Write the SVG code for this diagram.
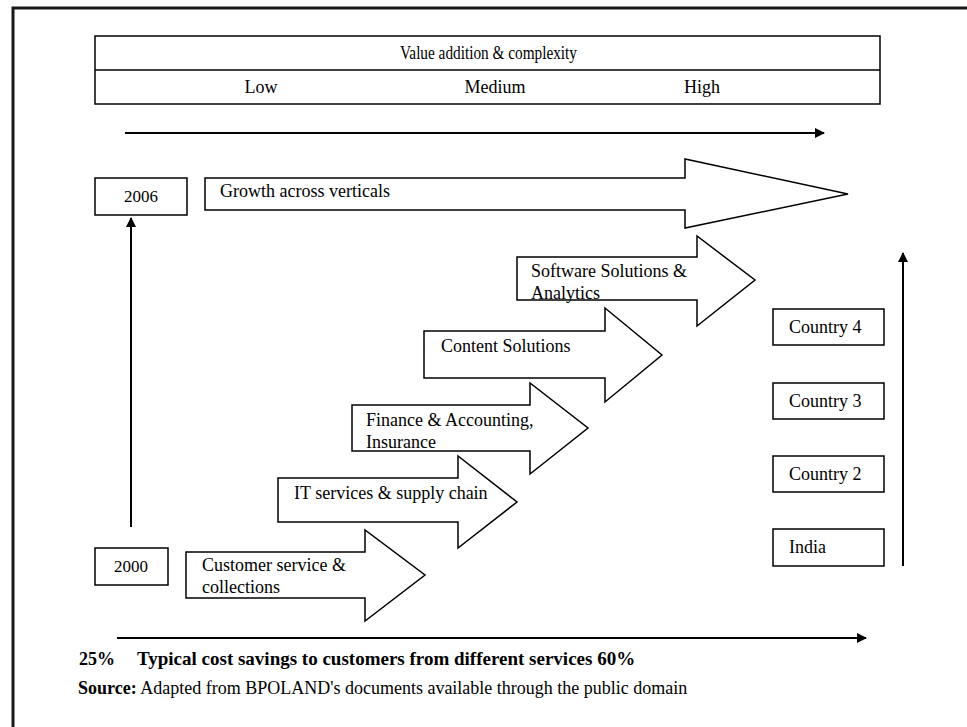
<svg xmlns="http://www.w3.org/2000/svg" width="967" height="727" viewBox="0 0 967 727">
<style>
text{font-family:"Liberation Serif","Times New Roman",serif;font-size:18px;fill:#000}
.yr{font-size:17px}
.b{fill:#fff;stroke:#000;stroke-width:1.5}
.l{stroke:#000;stroke-width:2;fill:none}
.bold{font-weight:bold}
</style>
<defs>
<marker id="ah" viewBox="0 0 10 10" refX="9" refY="5" markerWidth="5" markerHeight="5" orient="auto" markerUnits="strokeWidth">
<path d="M0,0 L10,5 L0,10 z" fill="#000"/>
</marker>
</defs>
<rect width="967" height="727" fill="#fff"/>
<path d="M13,727 V8 H967" fill="none" stroke="#1a1a1a" stroke-width="3"/>

<g id="header">
<rect class="b" x="95" y="36" width="785" height="68"/>
<line x1="95" y1="70" x2="880" y2="70" stroke="#000" stroke-width="1.5"/>
<text x="400" y="59" textLength="177" lengthAdjust="spacingAndGlyphs">Value addition &amp; complexity</text>
<text x="261" y="93" text-anchor="middle">Low</text>
<text x="495" y="93" text-anchor="middle">Medium</text>
<text x="702" y="93" text-anchor="middle">High</text>
</g>

<g id="y2006"><rect class="b" x="95" y="178" width="92" height="37"/><text class="yr" x="141" y="202" text-anchor="middle">2006</text></g>
<g id="y2000"><rect class="b" x="95" y="548" width="73" height="37"/><text class="yr" x="131" y="572" text-anchor="middle">2000</text></g>

<g id="growth"><path class="b" d="M205,178 H685 V159 L848,194 L685,228 V210 H205 Z"/><text x="220" y="197">Growth across verticals</text></g>
<g id="software"><path class="b" d="M517,257 H697 V236 L755,280 L697,326 V300 H517 Z"/><text x="531" y="277">Software Solutions &amp;</text><text x="531" y="299">Analytics</text></g>
<g id="content"><path class="b" d="M424,331 H605 V308 L662,355 L605,402 V378 H424 Z"/><text x="441" y="352">Content Solutions</text></g>
<g id="finance"><path class="b" d="M352,405 H530 V383 L588,428 L530,474 V451 H352 Z"/><text x="366" y="426">Finance &amp; Accounting,</text><text x="366" y="448">Insurance</text></g>
<g id="it"><path class="b" d="M278,478 H458 V456 L517,502 L458,548 V522 H278 Z"/><text x="294" y="499">IT services &amp; supply chain</text></g>
<g id="customer"><path class="b" d="M186,552 H365 V530 L425,575 L365,621 V598 H186 Z"/><text x="202" y="571">Customer service &amp;</text><text x="202" y="593">collections</text></g>

<g id="country4"><rect class="b" x="773" y="309" width="111" height="36"/><text x="789" y="333">Country 4</text></g>
<g id="country3"><rect class="b" x="773" y="383" width="111" height="36"/><text x="789" y="407">Country 3</text></g>
<g id="country2"><rect class="b" x="773" y="456" width="111" height="36"/><text x="789" y="480">Country 2</text></g>
<g id="india"><rect class="b" x="773" y="529" width="111" height="37"/><text x="789" y="553">India</text></g>

<g id="connectors">
<line class="l" x1="125" y1="133" x2="824" y2="133" marker-end="url(#ah)"/>
<line class="l" x1="131" y1="527" x2="131" y2="218" marker-end="url(#ah)"/>
<line class="l" x1="903" y1="566" x2="903" y2="253" marker-end="url(#ah)"/>
<line class="l" x1="117" y1="638" x2="866" y2="638" marker-end="url(#ah)"/>
</g>

<g id="footer">
<text class="bold" x="79" y="665">25%</text>
<text class="bold" x="137" y="665" style="font-size:19px">Typical cost savings to customers from different services 60%</text>
<text x="78" y="694"><tspan class="bold">Source:</tspan> Adapted from BPOLAND's documents available through the public domain</text>
</g>
</svg>
